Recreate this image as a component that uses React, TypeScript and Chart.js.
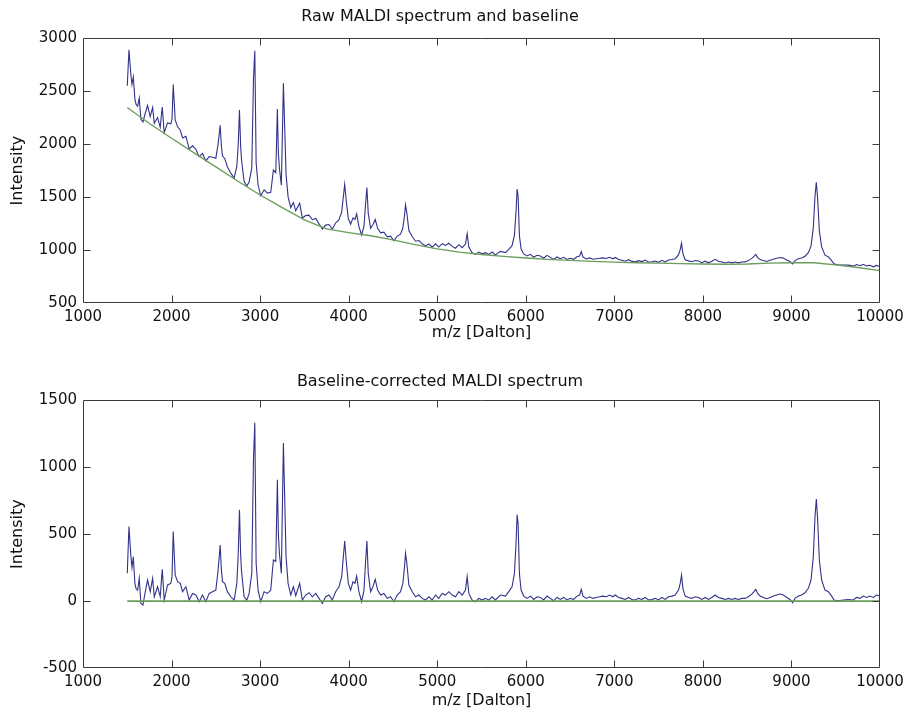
import React, { useEffect, useRef } from "react";
import { Chart, registerables } from "chart.js";

Chart.register(...registerables);

// ---------------- data ----------------
const TITLE_RAW = "Raw MALDI spectrum and baseline";
const TITLE_CORR = "Baseline-corrected MALDI spectrum";
const X_LABEL = "m/z [Dalton]";
const Y_LABEL = "Intensity";

const X_RANGE = [1000, 10000];
const Y_RANGE_RAW = [500, 3000];
const Y_RANGE_CORR = [-500, 1500];
const X_STEP = 1000;
const Y_STEP = 500;

// m/z sample positions of the spectrum (Dalton)
const MZ = [
  1500, 1519, 1541, 1553, 1568, 1586, 1600, 1617, 1635, 1654, 1677, 1700, 1729, 1759, 1786, 1805, 1842, 1872, 1895, 1917,
  1955, 1992, 2005, 2019, 2041, 2068, 2098, 2124, 2162, 2199, 2237, 2274, 2312, 2350, 2387, 2425, 2462, 2500, 2526, 2549,
  2562, 2575, 2601, 2631, 2669, 2707, 2737, 2752, 2767, 2780, 2789, 2819, 2850, 2876, 2906, 2925, 2940, 2955, 2977, 3007,
  3045, 3083, 3120, 3150, 3177, 3195, 3206, 3218, 3240, 3263, 3278, 3293, 3316, 3346, 3376, 3402, 3447, 3477, 3515, 3552,
  3590, 3628, 3665, 3703, 3740, 3778, 3815, 3853, 3891, 3921, 3940, 3955, 3973, 3996, 4022, 4049, 4071, 4090, 4116, 4146,
  4173, 4191, 4206, 4221, 4248, 4274, 4300, 4327, 4361, 4398, 4436, 4473, 4511, 4548, 4586, 4612, 4631, 4642, 4657, 4680,
  4718, 4755, 4793, 4830, 4868, 4906, 4943, 4981, 5018, 5056, 5093, 5131, 5169, 5206, 5244, 5282, 5319, 5338, 5357, 5394,
  5432, 5469, 5507, 5545, 5582, 5620, 5657, 5714, 5770, 5808, 5845, 5872, 5890, 5902, 5913, 5928, 5947, 5977, 6014, 6052,
  6090, 6127, 6165, 6202, 6240, 6278, 6315, 6353, 6390, 6428, 6466, 6503, 6541, 6578, 6608, 6627, 6646, 6684, 6721, 6759,
  6796, 6834, 6872, 6909, 6947, 6984, 7011, 7048, 7086, 7123, 7161, 7199, 7236, 7274, 7311, 7349, 7387, 7424, 7462, 7499,
  7537, 7574, 7612, 7650, 7687, 7725, 7744, 7759, 7774, 7800, 7838, 7875, 7913, 7950, 7988, 8025, 8063, 8101, 8138, 8176,
  8213, 8251, 8289, 8326, 8364, 8401, 8439, 8477, 8514, 8552, 8578, 8597, 8619, 8646, 8683, 8721, 8759, 8796, 8834, 8871,
  8909, 8947, 8984, 9014, 9040, 9078, 9116, 9153, 9191, 9221, 9247, 9266, 9281, 9296, 9315, 9341, 9379, 9416, 9454, 9480,
  9529, 9586, 9642, 9699, 9736, 9774, 9811, 9849, 9886, 9924, 9961, 10000,
];

// baseline-corrected intensity at each MZ position
const CORRECTED = [
  207, 557, 332, 250, 330, 132, 90, 82, 170, -18, -30, 57, 157, 70, 170, 32, 107, 32, 237, 7,
  120, 132, 180, 519, 195, 145, 132, 70, 107, 7, 57, 45, -5, 45, -5, 57, 70, 82, 232, 419,
  240, 145, 132, 70, 32, 7, 132, 332, 681, 350, 232, 32, 7, 57, 207, 1056, 1331, 282, 82, -5,
  70, 57, 82, 307, 295, 906, 500, 357, 207, 1181, 756, 332, 132, 45, 107, 40, 132, 7, 45, 62,
  32, 57, 20, -18, 32, 45, 7, 70, 107, 182, 332, 449, 295, 132, 82, 145, 132, 187, 70, -5,
  82, 295, 449, 207, 70, 107, 162, 82, 45, 57, 20, 32, -5, 45, 70, 132, 257, 357, 282, 120,
  70, 32, 45, 20, 7, 32, 7, 45, 20, 57, 45, 70, 45, 32, 70, 45, 82, 182, 57, 7,
  -5, 20, 7, 20, 7, 32, 8, 45, 37, 70, 107, 207, 432, 644, 582, 207, 82, 37, 20, 37,
  12, 32, 27, 8, 37, 20, 2, 27, 12, 27, 8, 20, 12, 37, 45, 87, 37, 20, 32, 20,
  27, 32, 37, 32, 45, 32, 45, 27, 20, 12, 27, 12, 8, 20, 12, 27, 8, 12, 20, 8,
  27, 12, 32, 37, 45, 82, 132, 194, 95, 37, 27, 20, 32, 27, 12, 27, 12, 27, 45, 27,
  20, 12, 20, 12, 20, 12, 20, 20, 32, 52, 70, 87, 57, 37, 27, 17, 27, 37, 45, 52,
  45, 27, 12, -12, 20, 37, 45, 62, 95, 157, 332, 632, 761, 607, 307, 157, 82, 70, 37, 8,
  2, 8, 12, 8, 27, 20, 37, 27, 37, 27, 45, 37,
];

// estimated baseline (knots)
const BASELINE_MZ = [
  1500, 1750, 2000, 2250, 2500, 2750, 3000, 3250, 3500, 3750, 4000, 4250, 4500, 4750, 5000, 5250, 5500, 5750,
  6000, 6250, 6500, 6750, 7000, 7250, 7500, 7750, 8000, 8250, 8500, 8750, 9000, 9250, 9500, 9750, 10000,
];
const BASELINE = [
  2345, 2195, 2055, 1920, 1785, 1650, 1520, 1400, 1285, 1200, 1165, 1135, 1095, 1052, 1010, 980, 958, 940,
  925, 912, 902, 893, 885, 880, 876, 872, 868, 866, 868, 876, 880, 880, 860, 835, 805,
];

// ---------------- styling ----------------
const FONT = "'DejaVu Sans', sans-serif";
const SPECTRUM_COLOR = "#32328a";
const BASELINE_COLOR = "#6a9c5a";
const AXIS_COLOR = "#3a3a3a";
const TEXT_COLOR = "#111111";

function baselineAt(mz: number): number {
  for (let i = 0; i < BASELINE_MZ.length - 1; i++) {
    const a = BASELINE_MZ[i];
    const b = BASELINE_MZ[i + 1];
    if (mz >= a && mz <= b) {
      const t = (mz - a) / (b - a);
      return BASELINE[i] + t * (BASELINE[i + 1] - BASELINE[i]);
    }
  }
  return mz < BASELINE_MZ[0] ? BASELINE[0] : BASELINE[BASELINE.length - 1];
}

const matlabBox = {
  id: "matlabBox",
  afterDraw(chart: any) {
    const { ctx, chartArea } = chart;
    const { left, right, top, bottom } = chartArea;
    const L = Math.round(left) + 0.5;
    const R = Math.round(right) - 0.5;
    const T = Math.round(top) + 0.5;
    const B = Math.round(bottom) - 0.5;
    const len = 7;
    ctx.save();
    ctx.strokeStyle = AXIS_COLOR;
    ctx.lineWidth = 1;
    ctx.beginPath();
    ctx.rect(L, T, R - L, B - T);
    const xs = chart.scales.x;
    xs.ticks.forEach((t: any) => {
      const p = Math.round(xs.getPixelForValue(t.value)) + 0.5;
      if (p <= L + 1 || p >= R - 1) return;
      ctx.moveTo(p, B);
      ctx.lineTo(p, B - len);
      ctx.moveTo(p, T);
      ctx.lineTo(p, T + len);
    });
    const ys = chart.scales.y;
    ys.ticks.forEach((t: any) => {
      const p = Math.round(ys.getPixelForValue(t.value)) + 0.5;
      if (p <= T + 1 || p >= B - 1) return;
      ctx.moveTo(L, p);
      ctx.lineTo(L + len, p);
      ctx.moveTo(R, p);
      ctx.lineTo(R - len, p);
    });
    ctx.stroke();
    ctx.restore();
  },
};

type PanelProps = {
  top: number;
  height: number;
  title: string;
  titlePad: { top: number; bottom: number };
  xBoxHeight: number;
  xTitleBottom: number;
  yRange: number[];
  datasets: any[];
};

function Panel(props: PanelProps) {
  const ref = useRef<HTMLCanvasElement | null>(null);
  useEffect(() => {
    if (!ref.current) return;
    const tickFont = { family: FONT, size: 15 };
    const labelFont = { family: FONT, size: 16 };
    const chart = new Chart(ref.current, {
      type: "line",
      data: { datasets: props.datasets },
      plugins: [matlabBox],
      options: {
        responsive: false,
        animation: false,
        devicePixelRatio: 1,
        parsing: false as any,
        normalized: true,
        layout: { padding: { left: 0, right: 27, top: 0, bottom: 0 } },
        elements: { point: { radius: 0 }, line: { tension: 0 } },
        plugins: {
          legend: { display: false },
          tooltip: { enabled: false },
          title: {
            display: true,
            text: props.title,
            color: TEXT_COLOR,
            font: { ...labelFont, weight: "normal" as any },
            padding: props.titlePad,
          },
        },
        scales: {
          x: {
            type: "linear",
            min: X_RANGE[0],
            max: X_RANGE[1],
            grid: { display: false, drawTicks: false },
            border: { display: false },
            ticks: {
              stepSize: X_STEP,
              color: TEXT_COLOR,
              font: { ...tickFont, lineHeight: 1.6 },
              padding: 2,
              maxRotation: 0,
              autoSkip: false,
              callback: (v: any) => String(v),
            },
            title: {
              display: true,
              text: X_LABEL,
              color: TEXT_COLOR,
              font: labelFont,
              padding: { top: 0, bottom: props.xTitleBottom },
            },
            afterFit: (s: any) => {
              s.height = props.xBoxHeight;
            },
          },
          y: {
            type: "linear",
            min: props.yRange[0],
            max: props.yRange[1],
            grid: { display: false, drawTicks: false },
            border: { display: false },
            ticks: {
              stepSize: Y_STEP,
              color: TEXT_COLOR,
              font: tickFont,
              padding: 6,
              callback: (v: any) => String(v),
            },
            title: {
              display: true,
              text: Y_LABEL,
              color: TEXT_COLOR,
              font: labelFont,
              padding: { top: 8, bottom: 0 },
            },
            afterFit: (s: any) => {
              s.width = 83;
            },
          },
        },
      } as any,
    });
    return () => chart.destroy();
  }, []);
  return (
    <canvas
      ref={ref}
      width={907}
      height={props.height}
      style={{ position: "absolute", left: 0, top: props.top, display: "block" }}
    />
  );
}

export default function App() {
  const rawData = MZ.map((x, i) => ({ x, y: CORRECTED[i] + baselineAt(x) }));
  const baseData = BASELINE_MZ.map((x, i) => ({ x, y: BASELINE[i] }));
  const corrData = MZ.map((x, i) => ({ x, y: CORRECTED[i] }));
  const zeroData = BASELINE_MZ.map((x, i) => ({ x, y: BASELINE[i] - BASELINE[i] }));

  const topSets = [
    { label: "baseline", data: baseData, borderColor: BASELINE_COLOR, borderWidth: 1.3, order: 0, pointRadius: 0 },
    { label: "raw", data: rawData, borderColor: SPECTRUM_COLOR, borderWidth: 1.1, order: 1, pointRadius: 0 },
  ];
  const bottomSets = [
    { label: "zero", data: zeroData, borderColor: BASELINE_COLOR, borderWidth: 1.8, order: 0, pointRadius: 0 },
    { label: "corrected", data: corrData, borderColor: SPECTRUM_COLOR, borderWidth: 1.1, order: 1, pointRadius: 0 },
  ];

  return (
    <div style={{ position: "absolute", left: 0, top: 0, width: 907, height: 715, background: "#fff" }}>
      <Panel
        top={0}
        height={360}
        title={TITLE_RAW}
        titlePad={{ top: 7, bottom: 12 }}
        xBoxHeight={57}
        xTitleBottom={18}
        yRange={Y_RANGE_RAW}
        datasets={topSets}
      />
      <Panel
        top={360}
        height={355}
        title={TITLE_CORR}
        titlePad={{ top: 12, bottom: 9 }}
        xBoxHeight={47}
        xTitleBottom={5}
        yRange={Y_RANGE_CORR}
        datasets={bottomSets}
      />
    </div>
  );
}
